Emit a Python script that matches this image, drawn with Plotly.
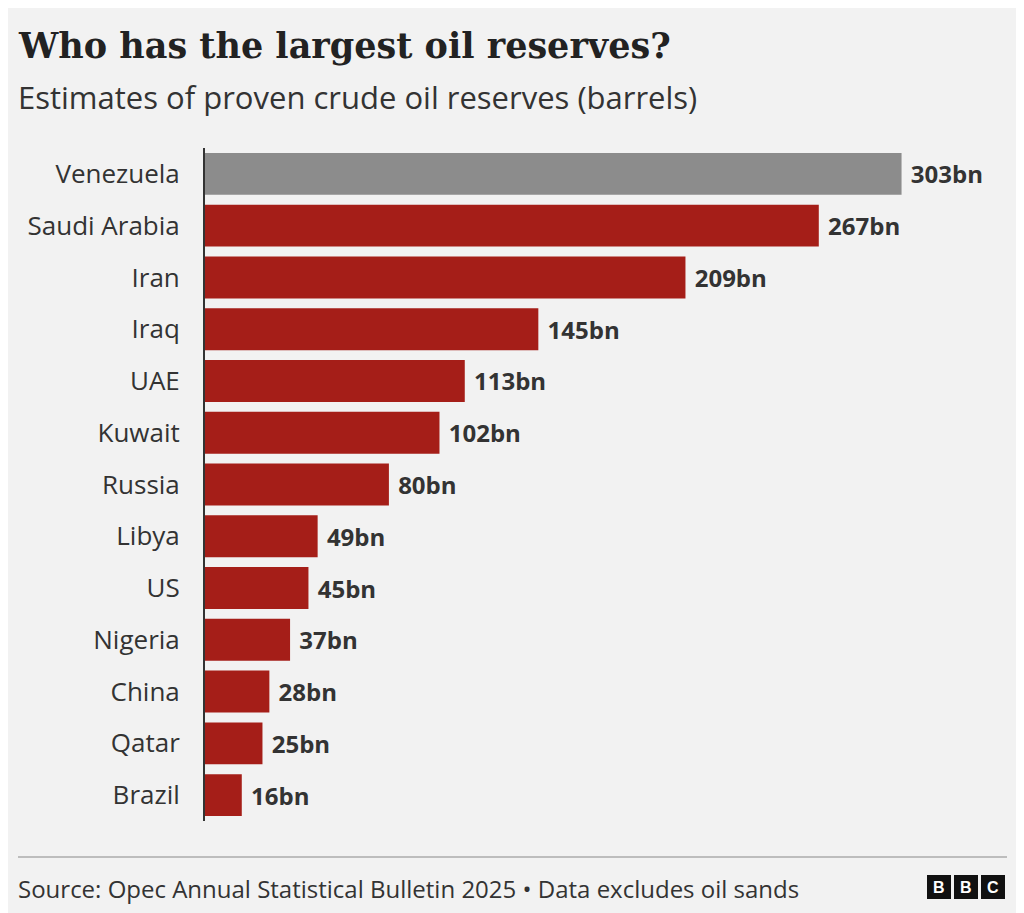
import plotly.graph_objects as go

countries = ["Venezuela","Saudi Arabia","Iran","Iraq","UAE","Kuwait","Russia","Libya","US","Nigeria","China","Qatar","Brazil"]
values = [303,267,209,145,113,102,80,49,45,37,28,25,16]
labels = [f"{v}bn" for v in values]
colors = ["#8c8c8c"] + ["#a51e18"]*(len(values)-1)

OFF = 8  # page body margin
W, H = 1024-OFF, 913-OFF
L, R, T, B = 205-OFF, 19, 148-OFF, 92
pw, ph = W-L-R, H-T-B

def px(x): return (x-OFF-L)/pw
def py(y): return (H-(y-OFF)-B)/ph

fig = go.Figure(go.Bar(
    x=values, y=countries, orientation="h", marker=dict(color=colors, line_width=0),
    width=0.81, text=labels, texttemplate=" %{text}", textposition="outside", cliponaxis=False,
    textfont=dict(family="Open Sans", size=24, color="#333333", weight="bold"),
    hoverinfo="skip"))

BG = "#f2f2f2"
fig.update_layout(
    width=W, height=H, paper_bgcolor=BG, plot_bgcolor=BG,
    margin=dict(l=L, r=R, t=T, b=B), showlegend=False,
    font=dict(family="Open Sans", color="#222222"),
    xaxis=dict(range=[0,348], visible=False, fixedrange=True),
    yaxis=dict(autorange="reversed", showline=True, linecolor="#333333", linewidth=2,
               tickfont=dict(size=26, color="#333333"), ticks="", ticklabelstandoff=18,
               showgrid=False),
)
def ann(text, x, y, size, family="Open Sans", color="#333333"):
    fig.add_annotation(text=text, x=px(x), y=py(y), xref="paper", yref="paper", showarrow=False,
                       xanchor="left", yanchor="middle", font=dict(family=family, size=size, color=color))
ann("<b>Who has the largest oil reserves?</b>", 16, 45, 35, "DejaVu Serif", "#222222")
ann("Estimates of proven crude oil reserves (barrels)", 16, 97, 31)
ann("Source: Opec Annual Statistical Bulletin 2025 • Data excludes oil sands", 16, 888, 24)
fig.add_shape(type="line", xref="paper", yref="paper", x0=px(18), x1=px(1007), y0=py(857), y1=py(857),
              line=dict(color="#888888", width=1))
for i, letter in enumerate("BBC"):
    x0 = 927 + i*27
    fig.add_shape(type="rect", xref="paper", yref="paper", x0=px(x0), x1=px(x0+24),
                  y0=py(899), y1=py(875), fillcolor="#111111", line_width=0)
    fig.add_annotation(text=f"<b>{letter}</b>", xref="paper", yref="paper", x=px(x0+12), y=py(887),
                       xanchor="center", yanchor="middle", showarrow=False,
                       font=dict(size=16, color="white", family="Liberation Sans"))
fig.write_html("out.html")
